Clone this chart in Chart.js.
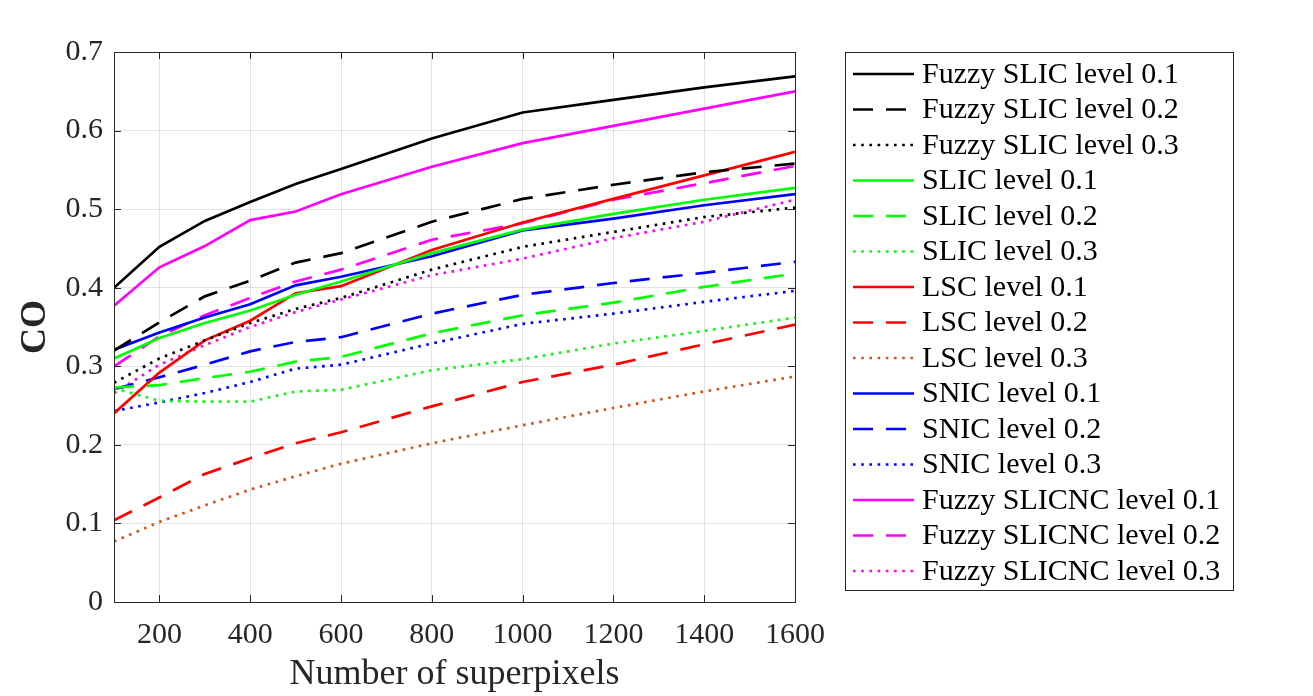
<!DOCTYPE html>
<html>
<head>
<meta charset="utf-8">
<script src="https://cdn.jsdelivr.net/npm/chart.js@4.4.0/dist/chart.umd.min.js"></script>
<style>
html, body { margin: 0; padding: 0; background: #fff; }
</style>
</head>
<body>
<canvas id="canvas" width="1313" height="696"></canvas>
<script>
// number of superpixels sampled
var superpixels = [100, 200, 300, 400, 500, 600, 800, 1000, 1200, 1400, 1600];
var xTicks = [200, 400, 600, 800, 1000, 1200, 1400, 1600];
var yTicks = [0, 0.1, 0.2, 0.3, 0.4, 0.5, 0.6, 0.7];

// CO values
var fuzzySlic1 = [0.400, 0.452, 0.485, 0.509, 0.532, 0.551, 0.590, 0.623, 0.639, 0.655, 0.669];
var fuzzySlic2 = [0.320, 0.356, 0.389, 0.409, 0.432, 0.444, 0.484, 0.513, 0.531, 0.547, 0.558];
var fuzzySlic3 = [0.279, 0.310, 0.333, 0.355, 0.373, 0.387, 0.423, 0.452, 0.471, 0.490, 0.502];
var slic1 = [0.310, 0.336, 0.355, 0.371, 0.391, 0.408, 0.444, 0.474, 0.494, 0.512, 0.527];
var slic2 = [0.273, 0.276, 0.285, 0.293, 0.306, 0.312, 0.342, 0.365, 0.381, 0.401, 0.418];
var slic3 = [0.272, 0.256, 0.255, 0.255, 0.268, 0.270, 0.295, 0.309, 0.329, 0.345, 0.362];
var lsc1 = [0.240, 0.292, 0.333, 0.358, 0.393, 0.402, 0.448, 0.483, 0.513, 0.543, 0.573];
var lsc2 = [0.104, 0.133, 0.163, 0.183, 0.202, 0.216, 0.249, 0.280, 0.302, 0.328, 0.353];
var lsc3 = [0.077, 0.102, 0.123, 0.143, 0.160, 0.176, 0.202, 0.225, 0.247, 0.268, 0.287];
var snic1 = [0.321, 0.343, 0.362, 0.379, 0.403, 0.414, 0.440, 0.473, 0.488, 0.505, 0.519];
var snic2 = [0.271, 0.286, 0.302, 0.319, 0.331, 0.337, 0.367, 0.391, 0.406, 0.419, 0.433];
var snic3 = [0.243, 0.254, 0.266, 0.280, 0.297, 0.302, 0.329, 0.354, 0.367, 0.382, 0.396];
var fuzzyNc1 = [0.377, 0.426, 0.453, 0.486, 0.497, 0.519, 0.554, 0.584, 0.606, 0.628, 0.650];
var fuzzyNc2 = [0.300, 0.338, 0.365, 0.387, 0.408, 0.423, 0.461, 0.482, 0.512, 0.533, 0.555];
var fuzzyNc3 = [0.266, 0.302, 0.327, 0.350, 0.369, 0.385, 0.416, 0.437, 0.463, 0.484, 0.512];

var seriesNames = [
  "Fuzzy SLIC level 0.1", "Fuzzy SLIC level 0.2", "Fuzzy SLIC level 0.3",
  "SLIC level 0.1", "SLIC level 0.2", "SLIC level 0.3",
  "LSC level 0.1", "LSC level 0.2", "LSC level 0.3",
  "SNIC level 0.1", "SNIC level 0.2", "SNIC level 0.3",
  "Fuzzy SLICNC level 0.1", "Fuzzy SLICNC level 0.2", "Fuzzy SLICNC level 0.3"
];
var seriesValues = [fuzzySlic1, fuzzySlic2, fuzzySlic3, slic1, slic2, slic3,
  lsc1, lsc2, lsc3, snic1, snic2, snic3, fuzzyNc1, fuzzyNc2, fuzzyNc3];
var seriesColors = ["#000000", "#000000", "#000000", "#00ff00", "#00ff00", "#00ff00",
  "#ff0000", "#ff0000", "rgb(217,83,25)", "#0000ff", "#0000ff", "#0000ff",
  "#ff00ff", "#ff00ff", "#ff00ff"];

var DASH = [20, 13];
var DOT = [2.6, 5.6];
var dashes = [[], DASH, DOT];

var datasets = [];
for (var i = 0; i < seriesNames.length; i++) {
  var pts = [];
  for (var j = 0; j < superpixels.length; j++) {
    pts.push({x: superpixels[j], y: seriesValues[i][j]});
  }
  datasets.push({
    label: seriesNames[i],
    data: pts,
    borderColor: seriesColors[i],
    backgroundColor: seriesColors[i],
    borderWidth: 2.7,
    borderDash: dashes[i % 3],
    pointRadius: 0,
    tension: 0,
    fill: false
  });
}

// box around the axes with inward ticks, matlab style
var framePlugin = {
  id: "frame",
  afterDatasetsDraw: function(chart) {
    var ctx = chart.ctx, a = chart.chartArea;
    var xs = chart.scales.x, ys = chart.scales.y;
    ctx.save();
    ctx.strokeStyle = "#262626";
    ctx.lineWidth = 1;
    ctx.setLineDash([]);
    ctx.strokeRect(a.left + 0.5, a.top + 0.5, a.right - a.left, a.bottom - a.top);
    ctx.beginPath();
    xTicks.forEach(function(v) {
      var px = Math.round(xs.getPixelForValue(v)) + 0.5;
      ctx.moveTo(px, a.bottom); ctx.lineTo(px, a.bottom - 7);
      ctx.moveTo(px, a.top); ctx.lineTo(px, a.top + 7);
    });
    yTicks.forEach(function(v) {
      var py = Math.round(ys.getPixelForValue(v)) + 0.5;
      ctx.moveTo(a.left, py); ctx.lineTo(a.left + 7, py);
      ctx.moveTo(a.right, py); ctx.lineTo(a.right - 7, py);
    });
    ctx.stroke();
    ctx.restore();
  }
};

// legend in a framed box on the right
var boxLegend = {
  id: "boxLegend",
  afterDraw: function(chart) {
    var ctx = chart.ctx;
    var left = 845, top = 52, right = 1233, bottom = 590;
    ctx.save();
    ctx.fillStyle = "#fff";
    ctx.fillRect(left, top, right - left, bottom - top);
    ctx.strokeStyle = "#262626";
    ctx.lineWidth = 1;
    ctx.setLineDash([]);
    ctx.strokeRect(left + 0.5, top + 0.5, right - left, bottom - top);
    ctx.font = "30px 'Liberation Serif', 'Times New Roman', serif";
    ctx.textBaseline = "middle";
    ctx.textAlign = "left";
    chart.data.datasets.forEach(function(ds, k) {
      var y = 74 + k * 35.5;
      ctx.strokeStyle = ds.borderColor;
      ctx.lineWidth = ds.borderWidth;
      ctx.setLineDash(ds.borderDash);
      ctx.beginPath();
      ctx.moveTo(853, y);
      ctx.lineTo(914, y);
      ctx.stroke();
      ctx.fillStyle = "#000";
      ctx.fillText(ds.label, 922, y + 1);
    });
    ctx.restore();
  }
};

new Chart(document.getElementById("canvas"), {
  type: "line",
  data: { datasets: datasets },
  options: {
    responsive: false,
    animation: false,
    devicePixelRatio: 1,
    layout: { padding: { left: 0, top: 52, right: 518, bottom: 0 } },
    plugins: { legend: { display: false }, tooltip: { enabled: false } },
    scales: {
      x: {
        type: "linear",
        min: 100,
        max: 1600,
        afterBuildTicks: function(scale) {
          scale.ticks = xTicks.map(function(v) { return {value: v}; });
        },
        afterFit: function(scale) { scale.height = 94; },
        grid: { color: "rgba(38,38,38,0.13)", drawTicks: false },
        border: { display: false },
        ticks: {
          padding: 15,
          maxRotation: 0,
          autoSkip: false,
          color: "#262626",
          font: { family: "'Liberation Serif', 'Times New Roman', serif", size: 30 },
          callback: function(v) { return String(v); }
        },
        title: {
          display: true,
          text: "Number of superpixels",
          color: "#262626",
          padding: { top: 0, bottom: 0 },
          font: { family: "'Liberation Serif', 'Times New Roman', serif", size: 36 }
        }
      },
      y: {
        min: 0,
        max: 0.7,
        afterBuildTicks: function(scale) {
          scale.ticks = yTicks.map(function(v) { return {value: v}; });
        },
        afterFit: function(scale) { scale.width = 114; },
        grid: { color: "rgba(38,38,38,0.13)", drawTicks: false },
        border: { display: false },
        ticks: {
          padding: 11,
          color: "#262626",
          font: { family: "'Liberation Serif', 'Times New Roman', serif", size: 30 },
          callback: function(v) { return String(Math.round(v * 10) / 10); }
        },
        title: {
          display: true,
          text: "CO",
          color: "#262626",
          padding: { top: 14, bottom: 0 },
          font: { family: "'Liberation Serif', 'Times New Roman', serif", size: 36, weight: "bold" }
        }
      }
    }
  },
  plugins: [framePlugin, boxLegend]
});
</script>
</body>
</html>
